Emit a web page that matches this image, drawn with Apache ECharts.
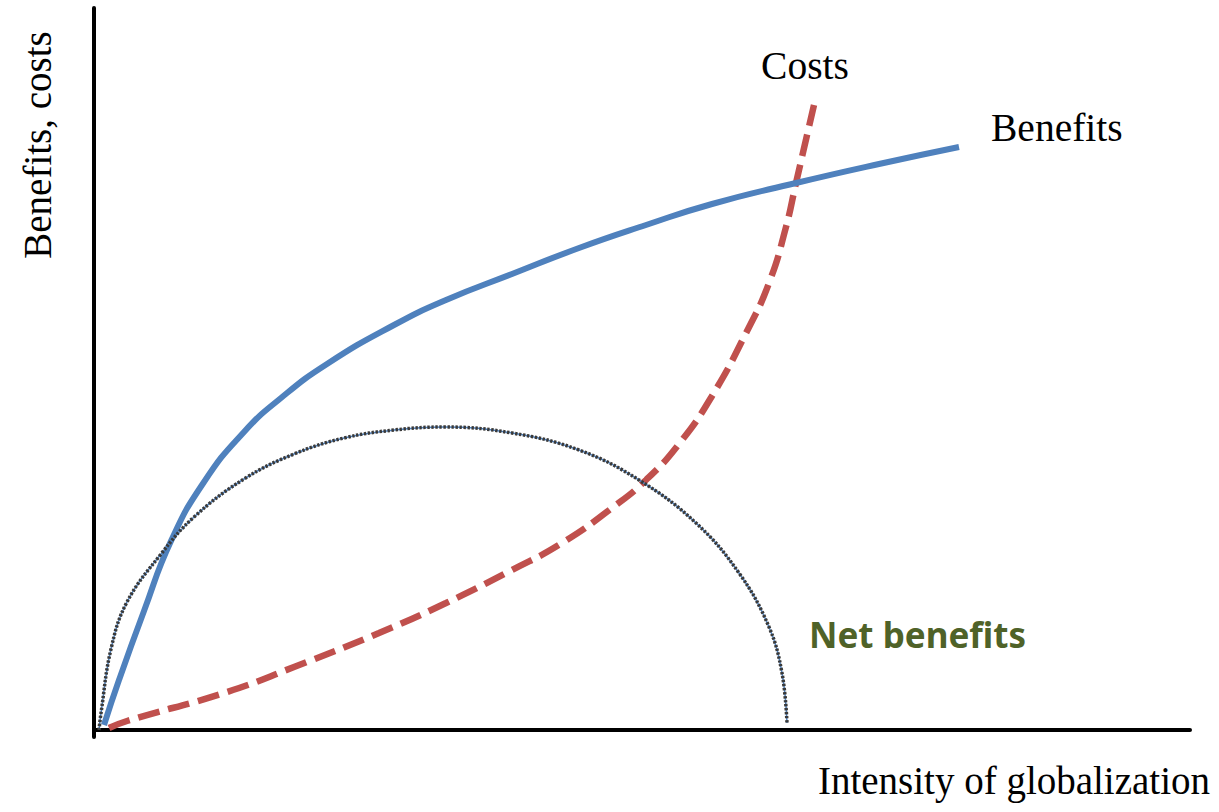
<!DOCTYPE html>
<html>
<head>
<meta charset="utf-8">
<title>Benefits and costs of globalization</title>
<script src="https://cdn.jsdelivr.net/npm/echarts@6/dist/echarts.min.js"></script>
<style>
  html, body { margin: 0; padding: 0; background: #ffffff; }
  #chart { width: 1219px; height: 812px; }
</style>
</head>
<body>
<div id="chart"></div>
<script>
// Curves as [intensity, level] pairs (arbitrary units)
const benefits = [
  [1.0, 0.5], [2.5, 5.0], [5.0, 11.9], [7.7, 18.9], [11.0, 24.8], [15.0, 29.8],
  [18.7, 33.2], [23.3, 36.6], [30.0, 40.5], [35.2, 43.0], [41.8, 45.6], [48.5, 48.2],
  [55.2, 50.5], [61.8, 52.6], [70.2, 54.7], [78.5, 56.6], [86.5, 58.3]
];
const costs = [
  [1.5, 0.2], [3.3, 0.9], [13.3, 3.8], [20.0, 6.3], [28.5, 9.7], [35.2, 12.7],
  [41.8, 16.0], [46.8, 18.7], [51.8, 22.2], [55.2, 25.0], [58.5, 28.6], [61.8, 33.4],
  [65.2, 39.7], [67.5, 44.7], [69.2, 50.3], [70.2, 54.7], [72.0, 62.5]
];
const netBenefits = [
  [0.5, 0.0], [0.7, 1.7], [1.7, 8.1], [3.3, 12.8], [6.7, 17.6], [10.0, 21.3],
  [15.0, 25.1], [20.0, 27.6], [25.0, 29.2], [30.0, 30.0], [35.0, 30.3], [41.8, 29.7],
  [48.5, 28.0], [54.5, 25.0], [60.2, 20.7], [64.5, 15.7], [67.5, 10.3], [68.8, 5.7],
  [69.3, 0.7]
];

const labels = {
  costs: 'Costs',
  benefits: 'Benefits',
  net: 'Net benefits',
  xTitle: 'Intensity of globalization',
  yTitle: 'Benefits, costs'
};

const serif = "'Liberation Serif', 'Times New Roman', serif";
const chart = echarts.init(document.getElementById('chart'), null, { renderer: 'svg' });

const axisBase = {
  type: 'value',
  axisLine: { show: true, lineStyle: { color: '#000000', width: 4 } },
  axisTick: { show: false },
  axisLabel: { show: false },
  splitLine: { show: false }
};

chart.setOption({
  animation: false,
  backgroundColor: '#ffffff',
  grid: { left: 94, right: 29, top: 8, bottom: 75 },
  xAxis: Object.assign({}, axisBase, { min: 0, max: 109.6 }),
  yAxis: Object.assign({}, axisBase, { min: -0.7, max: 72.2 }),
  series: [
    {
      name: labels.costs,
      type: 'line',
      data: costs,
      smooth: 0.5,
      symbol: 'none',
      lineStyle: { color: '#C0504D', width: 6.5, type: [22, 9], cap: 'butt' },
      z: 2
    },
    {
      name: labels.benefits,
      type: 'line',
      data: benefits,
      smooth: 0.5,
      symbol: 'none',
      lineStyle: { color: '#4F81BD', width: 6 },
      z: 3
    },
    {
      name: labels.net,
      type: 'line',
      data: netBenefits,
      smooth: 0.4,
      symbol: 'none',
      lineStyle: { color: '#4F81BD', width: 1.5 },
      z: 4
    },
    {
      name: labels.net + ' (dots)',
      type: 'line',
      data: netBenefits,
      smooth: 0.4,
      symbol: 'none',
      lineStyle: { color: '#3A3A3A', width: 3.5, type: [2.4, 1.6], cap: 'butt' },
      z: 5
    }
  ],
  graphic: [
    {
      type: 'text', x: 805, y: 65.5,
      style: { text: labels.costs, font: '39.5px ' + serif, fill: '#000000', textAlign: 'center', textVerticalAlign: 'middle' }
    },
    {
      type: 'text', x: 991, y: 127.5,
      style: { text: labels.benefits, font: '39.5px ' + serif, fill: '#000000', textAlign: 'left', textVerticalAlign: 'middle' }
    },
    {
      type: 'text', x: 809, y: 634,
      style: { text: labels.net, font: "bold 35px 'Noto Sans', sans-serif", fill: '#4F6228', textAlign: 'left', textVerticalAlign: 'middle' }
    },
    {
      type: 'text', x: 1210, y: 780.5,
      style: { text: labels.xTitle, font: '39px ' + serif, fill: '#000000', textAlign: 'right', textVerticalAlign: 'middle' }
    },
    {
      type: 'text', x: 37.5, y: 145, rotation: Math.PI / 2,
      style: { text: labels.yTitle, font: '39px ' + serif, fill: '#000000', textAlign: 'center', textVerticalAlign: 'middle' }
    }
  ]
});
</script>
</body>
</html>
